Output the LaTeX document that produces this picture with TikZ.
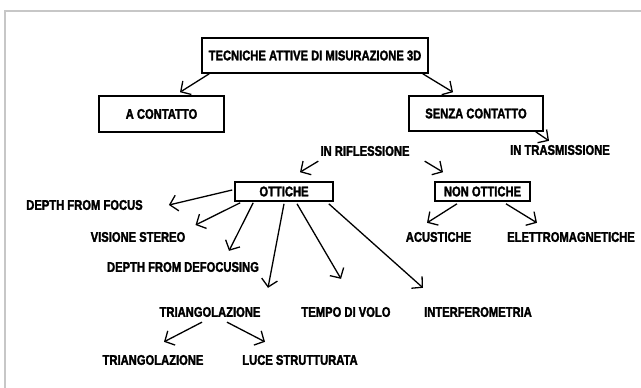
\documentclass[tikz,border=0pt]{standalone}
\usepackage{fontspec}
\newfontfamily\labfont{Liberation Sans Bold}[FakeStretch=0.8,FakeBold=2]
\usetikzlibrary{arrows.meta,calc}
\tikzset{
  lab/.style={font=\labfont\fontsize{14}{16}\selectfont, inner sep=0pt, text=black},
  boxed/.style={lab, draw=black, line width=1.6pt, align=center},
  arr/.style={draw=black, line width=1.3pt, -{Straight Barb[length=7.5pt,width=16pt,line width=1.3pt]}},
}
\begin{document}
\begin{tikzpicture}[x=1pt,y=-1pt]
\useasboundingbox (0,0) rectangle (641,388);
\fill[white] (0,0) rectangle (641,388);
\draw[black!22, line width=2pt] (641,11) -- (5,11) -- (5,388);

% boxes
\node[boxed, minimum width=226pt, minimum height=35pt] (top) at (315,55.5) {TECNICHE ATTIVE DI MISURAZIONE 3D};
\node[boxed, minimum width=125pt, minimum height=36pt] (acont) at (161.5,114) {A CONTATTO};
\node[boxed, minimum width=134pt, minimum height=35pt] (senza) at (476,113.5) {SENZA CONTATTO};
\node[boxed, minimum width=98pt, minimum height=19pt] (ott) at (284,191.5) {OTTICHE};
\node[boxed, minimum width=95pt, minimum height=19pt] (nonott) at (482.5,191.5) {NON OTTICHE};

% plain labels
\node[lab] (trasm) at (560,150) {IN TRASMISSIONE};
\node[lab] (rifl) at (365,151) {IN RIFLESSIONE};
\node[lab] (dff) at (84.5,205) {DEPTH FROM FOCUS};
\node[lab] (vis) at (138,237) {VISIONE STEREO};
\node[lab] (dfd) at (183,267) {DEPTH FROM DEFOCUSING};
\node[lab] (tri) at (210,312) {TRIANGOLAZIONE};
\node[lab] (tempo) at (346,312) {TEMPO DI VOLO};
\node[lab] (interf) at (478,312) {INTERFEROMETRIA};
\node[lab] (tri2) at (153,360) {TRIANGOLAZIONE};
\node[lab] (luce) at (300,360) {LUCE STRUTTURATA};
\node[lab] (acust) at (438.5,237) {ACUSTICHE};
\node[lab] (elettro) at (571,237) {ELETTROMAGNETICHE};

% connectors
\draw[arr] ($(top.south west)+(8,0)$) -- ($(acont.north)+(18.5,-3)$);
\draw[arr] ($(top.south east)+(-6,0)$) -- ($(senza.north)+(-23,-3)$);
\draw[arr] ($(senza.south east)+(-8,0)$) -- ($(trasm.north)+(-11,-4)$);
\draw[arr] ($(rifl.south west)+(-2,5)$) -- ($(ott.north)+(16,-9)$);
\draw[arr] ($(rifl.south east)+(15,5)$) -- ($(nonott.north)+(-39.5,-9)$);
\draw[arr] ($(ott.west)+(-2,-1.5)$) -- ($(dff.east)+(26,0)$);
\draw[arr] ($(ott.south west)+(6,1)$) -- ($(vis.east)+(10,-12)$);
\draw[arr] ($(ott.south west)+(19,1)$) -- ($(dfd.north)+(46,-11)$);
\draw[arr] ($(ott.south)+(0,2)$) -- ($(tri.north)+(58,-19)$);
\draw[arr] ($(ott.south)+(13,2)$) -- ($(tempo.north)+(-5,-28)$);
\draw[arr] ($(ott.south east)+(-5,2)$) -- ($(interf.north)+(-55,-19)$);
\draw[arr] ($(nonott.south)+(-25.5,2)$) -- ($(acust.north)+(-11.5,-9)$);
\draw[arr] ($(nonott.south)+(23.5,2)$) -- ($(elettro.north)+(-34,-9)$);
\draw[arr] ($(tri.south)+(-8,5)$) -- ($(tri2.north)+(11,-13)$);
\draw[arr] ($(tri.south)+(17,5)$) -- ($(luce.north)+(-35,-13)$);
\end{tikzpicture}
\end{document}
